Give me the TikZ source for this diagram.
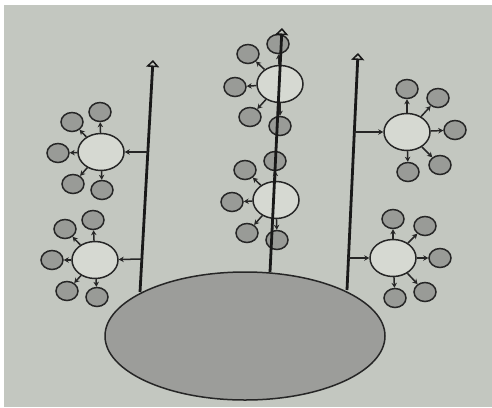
\documentclass[tikz,border=0pt]{standalone}
\usetikzlibrary{shapes.geometric,arrows.meta}
\definecolor{bgc}{HTML}{C3C7C0}
\definecolor{hubc}{HTML}{D6D9D2}
\definecolor{satc}{HTML}{999B97}
\definecolor{bigc}{HTML}{9C9D9A}
\begin{document}
\begin{tikzpicture}[x=1pt,y=-1pt,
  hub/.style={ellipse,draw=black!85,line width=1.5pt,fill=hubc,minimum width=46pt,minimum height=37pt,inner sep=0pt},
  sat/.style={ellipse,draw=black!85,line width=1.5pt,fill=satc,minimum width=22pt,minimum height=19pt,inner sep=0pt},
  stem/.style={line width=2.8pt,black!90,-{Triangle[open,width=13pt,length=7pt,line width=1.5pt]}},
  link/.style={line width=1.5pt,black!85,-{Stealth[length=5pt,width=5.5pt]}},
  base/.style={ellipse,draw=black!85,line width=1.5pt,fill=bigc,minimum width=280pt,minimum height=128pt,inner sep=0pt}]
\fill[bgc] (0,0) rectangle (492,407);
\fill[white] (0,0) rectangle (492,5);
\fill[white] (0,0) rectangle (4,407);
\useasboundingbox (0,0) rectangle (492,407);

% base
\node[base] (E) at (245,336) {};

% stems
\coordinate (Lbot) at (140,292); \coordinate (Ltop) at (153,60);
\coordinate (Mbot) at (270,272); \coordinate (Mtop) at (282,28);
\coordinate (Rbot) at (347,290); \coordinate (Rtop) at (358,53);
\draw[stem] (Lbot) -- (Ltop);
\draw[stem] (Rbot) -- (Rtop);

% left upper cluster
\node[hub] (L1) at (101,152) {};
\node[sat] (L1a) at (100,112) {};
\node[sat] (L1b) at (72,122) {};
\node[sat] (L1c) at (58,153) {};
\node[sat] (L1d) at (73,184) {};
\node[sat] (L1e) at (102,190) {};
\coordinate (L1s) at (148,152);
\draw[link] (L1s) -- (L1);
\foreach \s in {a,b,c,d,e} \draw[link] (L1) -- (L1\s);

% left lower cluster
\node[hub] (L2) at (95,260) {};
\node[sat] (L2a) at (93,220) {};
\node[sat] (L2b) at (65,229) {};
\node[sat] (L2c) at (52,260) {};
\node[sat] (L2d) at (67,291) {};
\node[sat] (L2e) at (97,297) {};
\coordinate (L2s) at (142,259);
\draw[link] (L2s) -- (L2);
\foreach \s in {a,b,c,d,e} \draw[link] (L2) -- (L2\s);

% middle upper cluster
\node[hub] (M1) at (280,84) {};
\node[sat] (M1a) at (278,44) {};
\node[sat] (M1b) at (248,54) {};
\node[sat] (M1c) at (235,87) {};
\node[sat] (M1d) at (250,117) {};
\node[sat] (M1e) at (280,126) {};
\foreach \s in {a,b,c,d,e} \draw[link] (M1) -- (M1\s);

% middle lower cluster
\node[hub] (M2) at (276,200) {};
\node[sat] (M2a) at (275,161) {};
\node[sat] (M2b) at (245,170) {};
\node[sat] (M2c) at (232,202) {};
\node[sat] (M2d) at (247,233) {};
\node[sat] (M2e) at (277,240) {};
\foreach \s in {a,b,c,d,e} \draw[link] (M2) -- (M2\s);

\draw[stem] (Mbot) -- (Mtop);

% right upper cluster
\node[hub] (R1) at (407,132) {};
\node[sat] (R1a) at (407,89) {};
\node[sat] (R1b) at (438,98) {};
\node[sat] (R1c) at (455,130) {};
\node[sat] (R1d) at (440,165) {};
\node[sat] (R1e) at (408,172) {};
\coordinate (R1s) at (354,132);
\draw[link] (R1s) -- (R1);
\foreach \s in {a,b,c,d,e} \draw[link] (R1) -- (R1\s);

% right lower cluster
\node[hub] (R2) at (393,258) {};
\node[sat] (R2a) at (393,219) {};
\node[sat] (R2b) at (425,226) {};
\node[sat] (R2c) at (440,258) {};
\node[sat] (R2d) at (425,292) {};
\node[sat] (R2e) at (395,298) {};
\coordinate (R2s) at (348,258);
\draw[link] (R2s) -- (R2);
\foreach \s in {a,b,c,d,e} \draw[link] (R2) -- (R2\s);
\end{tikzpicture}
\end{document}
